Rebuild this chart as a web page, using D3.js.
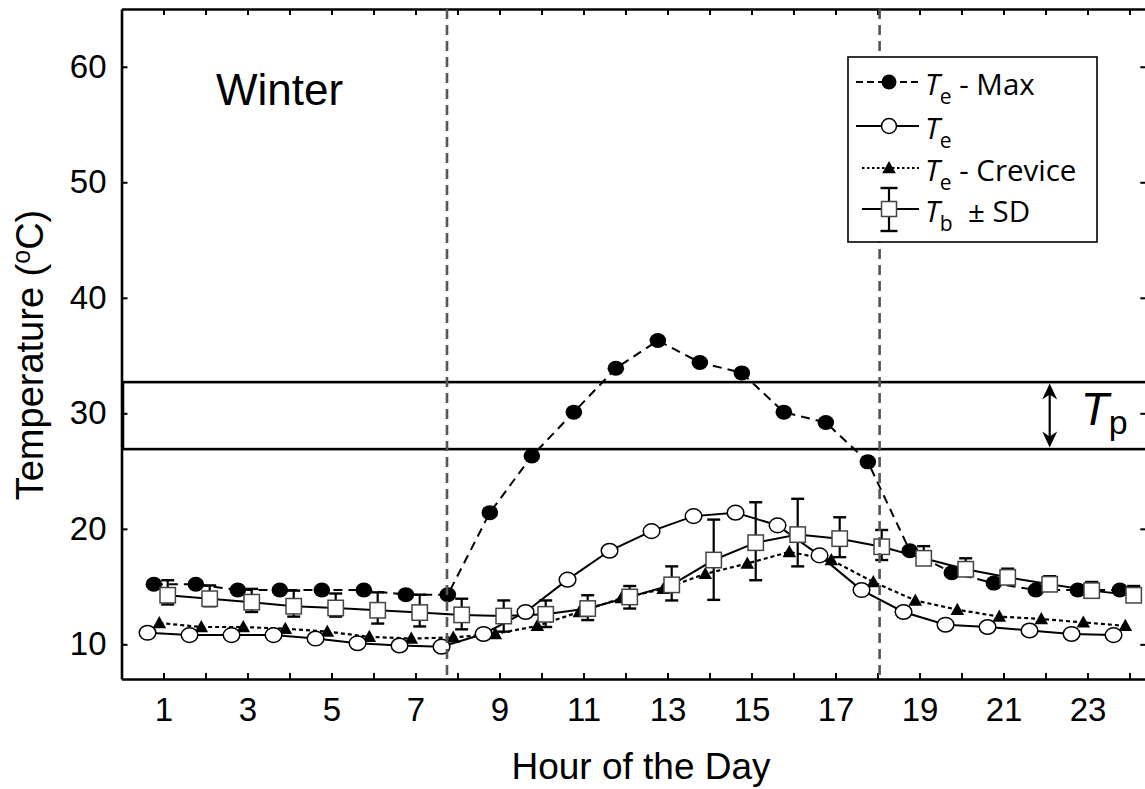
<!DOCTYPE html>
<html>
<head>
<meta charset="utf-8">
<script src="https://cdn.jsdelivr.net/npm/d3@7"></script>
<style>
  html, body { margin: 0; padding: 0; background: #fff; }
  svg { display: block; }
  .axis text { font-family: "Liberation Sans", Arial, sans-serif; font-size: 33px; fill: #000; }
  .axis .domain { stroke: #000; stroke-width: 2.6; }
  .axis .tick line { stroke: #000; stroke-width: 2; }
</style>
</head>
<body>
<svg id="chart" width="1145" height="789"></svg>
<script>
// ---- data: hourly means, winter ----
const hours = d3.range(1, 25);
const xTickLabels = ["1", "3", "5", "7", "9", "11", "13", "15", "17", "19", "21", "23"];
const yTickValues = [10, 20, 30, 40, 50, 60];

// operative temperature, fully exposed (maximum)
const teMax = [15.2, 15.2, 14.7, 14.7, 14.7, 14.7, 14.3, 14.3, 21.4, 26.3, 30.1, 33.9,
               36.3, 34.4, 33.5, 30.1, 29.2, 25.8, 18.1, 16.2, 15.3, 14.7, 14.7, 14.7];
// mean operative temperature
const teMean = [11.0, 10.8, 10.8, 10.8, 10.5, 10.1, 9.9, 9.8, 10.9, 12.8, 15.6, 18.1,
                19.8, 21.1, 21.4, 20.3, 17.7, 14.7, 12.8, 11.7, 11.5, 11.2, 10.9, 10.8];
// operative temperature inside crevices
const teCrevice = [11.85, 11.5, 11.5, 11.35, 11.1, 10.65, 10.5, 10.6, 10.9, 11.6, 12.8, 14.0,
                   14.8, 16.1, 17.0, 18.0, 17.3, 15.4, 13.8, 13.0, 12.4, 12.2, 11.9, 11.6];
// body temperature, mean with upper / lower SD limits
const tbMean = [14.25, 13.95, 13.65, 13.3, 13.15, 12.95, 12.75, 12.55, 12.45, 12.6, 13.1, 14.1,
                15.15, 17.3, 18.8, 19.5, 19.15, 18.45, 17.45, 16.5, 15.8, 15.2, 14.65, 14.25];
const tbUpper = [15.55, 15.1, 14.8, 14.65, 14.4, 14.5, 14.3, 13.95, 13.8, 13.8, 14.25, 15.05,
                 16.75, 20.8, 22.3, 22.6, 21.0, 19.9, 18.5, 17.45, 16.55, 15.9, 15.4, 15.05];
const tbLower = [13.45, 13.3, 12.8, 12.4, 12.4, 11.8, 11.55, 11.3, 11.1, 11.5, 12.1, 13.1,
                 13.8, 13.85, 15.55, 16.75, 17.55, 17.3, 17.0, 16.0, 15.3, 14.8, 14.2, 13.8];

const tpRange = [26.9, 32.7];     // preferred body temperature range
const daylight = [7.75, 18.05];   // sunrise / sunset
const season = "Winter";

// small horizontal shifts so markers of one hour do not sit on top of each other
const shift = { teMean: -0.38, teMax: -0.23, teCrevice: -0.1, tb: 0.1 };

// ---- scales ----
const svg = d3.select("#chart");
const x = d3.scaleLinear().domain([0, 24.4]).range([121.5, 1146.3]);
const y = d3.scaleLinear().domain([7, 65]).range([679, 9]);
const [x0, x1] = x.range();
const [yB, yT] = y.range();

// ---- preferred temperature band ----
svg.append("rect")
  .attr("x", x0 + 1.5).attr("width", 1160 - x0)
  .attr("y", y(tpRange[1])).attr("height", y(tpRange[0]) - y(tpRange[1]))
  .attr("fill", "none").attr("stroke", "#000").attr("stroke-width", 2.6);

// ---- axes ----
svg.append("g").attr("class", "axis")
  .attr("transform", `translate(0,${yB})`)
  .call(d3.axisBottom(x).tickValues(hours).tickSize(-6).tickSizeOuter(0).tickPadding(19)
        .tickFormat(d => xTickLabels.includes(String(d)) ? String(d) : ""));
svg.append("g").attr("class", "axis")
  .attr("transform", `translate(0,${yT})`)
  .call(d3.axisTop(x).tickValues(hours).tickSize(-6).tickSizeOuter(0).tickFormat(""));
svg.append("g").attr("class", "axis")
  .attr("transform", `translate(${x0},0)`)
  .call(d3.axisLeft(y).tickValues(yTickValues).tickSize(-6).tickSizeOuter(0).tickPadding(15));
svg.append("g").attr("class", "axis")
  .attr("transform", `translate(${x1},0)`)
  .call(d3.axisRight(y).tickValues(yTickValues).tickSize(-6).tickSizeOuter(0).tickFormat(""));

// ---- series lines ----
const lineFor = (vals, off) => d3.line()
  .x((d, i) => x(hours[i] + off)).y(d => y(d))(vals);

const lines = svg.append("g").attr("fill", "none").attr("stroke", "#000");
lines.append("path").attr("d", lineFor(teMax, shift.teMax))
  .attr("stroke-width", 2).attr("stroke-dasharray", "9,6");
lines.append("path").attr("d", lineFor(teCrevice, shift.teCrevice))
  .attr("stroke-width", 2.2).attr("stroke-dasharray", "4,3");
lines.append("path").attr("d", lineFor(teMean, shift.teMean))
  .attr("stroke-width", 2);
lines.append("path").attr("d", lineFor(tbMean, shift.tb))
  .attr("stroke-width", 2);

// ---- markers ----
const triPath = "M0,-7 L6.8,5.2 L-6.8,5.2 Z";

svg.append("g").selectAll("ellipse").data(teMax).join("ellipse")
  .attr("cx", (d, i) => x(hours[i] + shift.teMax)).attr("cy", d => y(d))
  .attr("rx", 8.3).attr("ry", 7.5).attr("fill", "#000");

svg.append("g").selectAll("path").data(teCrevice).join("path")
  .attr("transform", (d, i) => `translate(${x(hours[i] + shift.teCrevice)},${y(d)})`)
  .attr("d", triPath).attr("fill", "#000");

svg.append("g").selectAll("ellipse").data(teMean).join("ellipse")
  .attr("cx", (d, i) => x(hours[i] + shift.teMean)).attr("cy", d => y(d))
  .attr("rx", 8.3).attr("ry", 7.3).attr("fill", "#fff").attr("stroke", "#000").attr("stroke-width", 1.5);

// body temperature with SD bars
const tb = svg.append("g").selectAll("g").data(tbMean).join("g")
  .attr("transform", (d, i) => `translate(${x(hours[i] + shift.tb)},0)`);
tb.append("line")
  .attr("y1", (d, i) => y(tbUpper[i])).attr("y2", (d, i) => y(tbLower[i]))
  .attr("stroke", "#000").attr("stroke-width", 2.2);
tb.append("line").attr("x1", -6.5).attr("x2", 6.5)
  .attr("y1", (d, i) => y(tbUpper[i])).attr("y2", (d, i) => y(tbUpper[i]))
  .attr("stroke", "#000").attr("stroke-width", 2.4);
tb.append("line").attr("x1", -6.5).attr("x2", 6.5)
  .attr("y1", (d, i) => y(tbLower[i])).attr("y2", (d, i) => y(tbLower[i]))
  .attr("stroke", "#000").attr("stroke-width", 2.4);
tb.append("rect")
  .attr("x", -7.7).attr("width", 15.4).attr("height", 15.4)
  .attr("y", d => y(d) - 7.7)
  .attr("fill", "#fff").attr("stroke", "#444").attr("stroke-width", 1.5);

// ---- sunrise / sunset ----
svg.append("g").selectAll("line").data(daylight).join("line")
  .attr("x1", d => x(d)).attr("x2", d => x(d))
  .attr("y1", yT).attr("y2", yB)
  .attr("stroke", "#555").attr("stroke-width", 2.6).attr("stroke-dasharray", "10,6");

// ---- Tp annotation ----
const ax = x(22.1);
const ya = y(tpRange[1]) + 1.5, yb = y(tpRange[0]) - 1.5;
svg.append("line").attr("x1", ax).attr("x2", ax).attr("y1", ya + 6).attr("y2", yb - 6)
  .attr("stroke", "#000").attr("stroke-width", 2.2);
svg.append("path").attr("d", `M${ax},${ya} L${ax - 7.5},${ya + 16} L${ax},${ya + 11} L${ax + 7.5},${ya + 16} Z`)
  .attr("fill", "#000");
svg.append("path").attr("d", `M${ax},${yb} L${ax - 7.5},${yb - 16} L${ax},${yb - 11} L${ax + 7.5},${yb - 16} Z`)
  .attr("fill", "#000");
const tpText = svg.append("text").attr("x", ax + 31).attr("y", 425)
  .attr("font-family", "Liberation Sans, Arial, sans-serif");
tpText.append("tspan").attr("font-style", "italic").attr("font-size", 46).text("T");
tpText.append("tspan").attr("font-size", 34).attr("dy", 9).text("p");

// ---- season label ----
svg.append("text").attr("x", 216).attr("y", 105)
  .attr("font-family", "Liberation Sans, Arial, sans-serif").attr("font-size", 44)
  .text(season);

// ---- axis titles ----
svg.append("text").attr("x", 641).attr("y", 779).attr("text-anchor", "middle")
  .attr("font-family", "Liberation Sans, Arial, sans-serif").attr("font-size", 37)
  .text("Hour of the Day");
const yTitle = svg.append("text").attr("transform", "translate(43,355) rotate(-90)")
  .attr("text-anchor", "middle")
  .attr("font-family", "Liberation Sans, Arial, sans-serif").attr("font-size", 38);
yTitle.append("tspan").text("Temperature (");
yTitle.append("tspan").attr("font-size", 25).attr("dy", -13).text("o");
yTitle.append("tspan").attr("dy", 13).text("C)");

// ---- legend ----
const lg = svg.append("g");
lg.append("rect").attr("x", 848).attr("y", 57).attr("width", 249).attr("height", 185)
  .attr("fill", "#fff").attr("stroke", "#000").attr("stroke-width", 1.6);

const legendItems = [
  { sub: "e", rest: " - Max", dash: "7,4", x1: 856, marker: "filled" },
  { sub: "e", rest: "", dash: null, x1: 856, marker: "open" },
  { sub: "e", rest: " - Crevice", dash: "2.5,2.5", x1: 862, marker: "tri" },
  { sub: "b", rest: "  \u00B1 SD", dash: null, x1: 862, marker: "square" }
];
const rowY = [82, 126, 168, 209];
const mx = 889;
legendItems.forEach((it, i) => {
  const cy = rowY[i];
  const g = lg.append("g");
  g.append("line").attr("x1", it.x1).attr("x2", 919).attr("y1", cy).attr("y2", cy)
    .attr("stroke", "#000").attr("stroke-width", 2)
    .attr("stroke-dasharray", it.dash);
  if (it.marker === "filled") {
    g.append("ellipse").attr("cx", mx).attr("cy", cy).attr("rx", 7.5).attr("ry", 7.5).attr("fill", "#000");
  } else if (it.marker === "open") {
    g.append("ellipse").attr("cx", mx).attr("cy", cy).attr("rx", 7.5).attr("ry", 7.5)
      .attr("fill", "#fff").attr("stroke", "#000").attr("stroke-width", 1.5);
  } else if (it.marker === "tri") {
    g.append("path").attr("transform", `translate(${mx},${cy})`).attr("d", triPath).attr("fill", "#000");
  } else {
    g.append("line").attr("x1", mx).attr("x2", mx).attr("y1", cy - 21).attr("y2", cy + 22)
      .attr("stroke", "#000").attr("stroke-width", 2.2);
    [cy - 21, cy + 22].forEach(yy => g.append("line").attr("x1", mx - 8.5).attr("x2", mx + 8.5)
      .attr("y1", yy).attr("y2", yy).attr("stroke", "#000").attr("stroke-width", 2.4));
    g.append("rect").attr("x", mx - 7.5).attr("y", cy - 7.5).attr("width", 15).attr("height", 15)
      .attr("fill", "#fff").attr("stroke", "#444").attr("stroke-width", 1.5);
  }
  const t = g.append("text").attr("x", 925).attr("y", cy + 13)
    .attr("font-family", "Open Sans, sans-serif").attr("font-size", 29.5)
    .attr("xml:space", "preserve").style("white-space", "pre");
  t.append("tspan").attr("font-style", "italic").text("T");
  t.append("tspan").attr("font-size", 21).attr("dy", 9).text(it.sub);
  if (it.rest) t.append("tspan").attr("dy", -9).text(it.rest);
});
</script>
</body>
</html>
